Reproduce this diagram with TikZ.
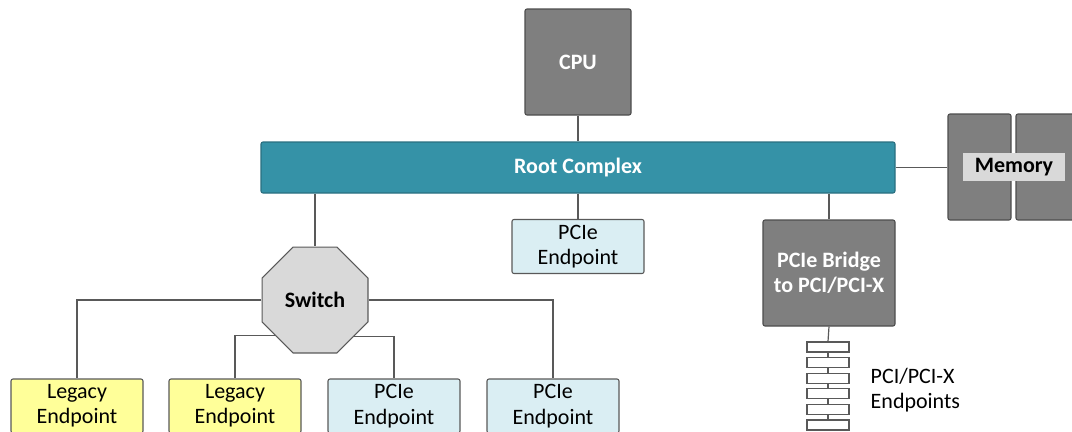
\documentclass[tikz,border=0pt]{standalone}
\usepackage{fontspec}
\setmainfont{Carlito}
\usetikzlibrary{shapes.geometric}
\definecolor{wire}{HTML}{595959}
\definecolor{boxgray}{HTML}{7F7F7F}
\definecolor{boxedge}{HTML}{4D4D4D}
\definecolor{rootteal}{HTML}{3592A7}
\definecolor{rootedge}{HTML}{2A6F80}
\definecolor{pcieblue}{HTML}{DAEEF3}
\definecolor{legacyyel}{HTML}{FFFF99}
\definecolor{swgray}{HTML}{D9D9D9}
\newcommand\lblfont{\fontsize{16.5}{19}\selectfont}
\tikzset{
  wire/.style={draw=wire, line width=0.9pt},
  darkbox/.style={draw=boxedge, fill=boxgray, text=white, font=\lblfont\bfseries,
    line width=0.8pt, rounded corners=1.5pt, align=center, inner sep=0pt},
  rootbox/.style={draw=rootedge, fill=rootteal, text=white, font=\lblfont\bfseries,
    line width=0.8pt, rounded corners=1.5pt, inner sep=0pt,
    minimum width=475.5pt, minimum height=38.25pt},
  ep/.style={draw=wire, line width=0.8pt, rounded corners=1.5pt, align=center,
    inner sep=0pt, minimum width=99pt, minimum height=40.5pt, font=\lblfont},
  pcie/.style={ep, fill=pcieblue},
  legacy/.style={ep, fill=legacyyel},
  switchnode/.style={regular polygon, regular polygon sides=8, minimum size=86pt,
    inner sep=0pt, draw=wire, line width=0.8pt, fill=swgray, font=\lblfont\bfseries},
  memtag/.style={fill=swgray, font=\lblfont\bfseries, inner sep=0pt,
    minimum width=76.5pt, minimum height=21pt},
  slot/.style={draw=wire, fill=white, line width=0.8pt, inner sep=0pt,
    minimum width=31.5pt, minimum height=7.5pt}
}
\begin{document}
\begin{tikzpicture}[x=0.75pt,y=-0.75pt]
  \useasboundingbox (0,0) rectangle (1072,432);

  \node[darkbox, minimum width=79.5pt, minimum height=79.5pt] (cpu) at (578,62) {CPU};
  \node[rootbox] (rc) at (578,167.5) {Root Complex};

  % memory banks with their tag on top
  \node[darkbox, minimum width=47.25pt, minimum height=79.5pt] (memA) at (979.5,167) {};
  \node[darkbox, minimum width=47.25pt, minimum height=79.5pt] (memB) at (1047.5,167) {};
  \node[memtag] (mem) at (1014,167) {Memory};

  \node[pcie] (ep0) at (578,246.5) {PCIe\\Endpoint};
  \node[darkbox, minimum width=99pt, minimum height=79.5pt] (bridge) at (829,273) {PCIe Bridge\\to PCI/PCI-X};
  \node[switchnode] (sw) at (315,300) {Switch};

  \foreach \n/\x/\kind/\txt in {leg1/77/legacy/Legacy, leg2/235/legacy/Legacy,
                               ep1/394/pcie/PCIe, ep2/553/pcie/PCIe}
    \node[\kind] (\n) at (\x,406) {\txt\\Endpoint};

  % PCI/PCI-X slots below the bridge
  \foreach \i in {1,...,6}
    \node[slot] (s\i) at (828,{331.4+15.6*\i}) {};
  \node[anchor=west, align=left, font=\lblfont] (pcitag) at (866,390) {PCI/PCI-X\\Endpoints};

  \draw[wire] (cpu) -- (rc);
  \draw[wire] (rc.east) -- (rc.east -| memA.west);
  \draw[wire] (ep0.north |- rc.south) -- (ep0.north);
  \draw[wire] (bridge.north |- rc.south) -- (bridge.north);
  \draw[wire] (sw.north |- rc.south) -- (sw.north);

  \draw[wire] (sw.west) -| (leg1.north);
  \draw[wire] (sw.east) -| (ep2.north);
  \draw[wire] (sw.222.7) -| (leg2.north);
  \draw[wire] (sw.317.3) -| (ep1.north);

  \draw[wire] (bridge.south) -- (s1.north);
  \foreach \i [evaluate=\i as \j using int(\i+1)] in {1,...,5}
    \draw[wire] (s\i.south) -- (s\j.north);
\end{tikzpicture}
\end{document}
